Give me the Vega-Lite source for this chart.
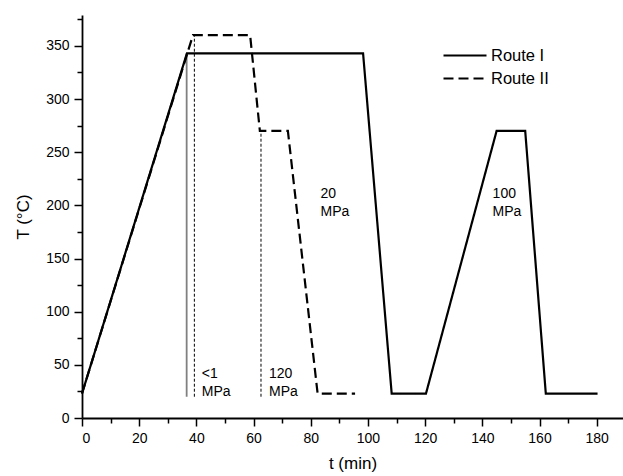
{
  "$schema": "https://vega.github.io/schema/vega-lite/v6.json",
  "autosize": {"type": "none"},
  "padding": {"left": 82, "top": 15, "right": 0, "bottom": 58},
  "width": 541,
  "height": 403,
  "background": "white",
  "config": {
    "view": {"stroke": null},
    "font": "Liberation Sans",
    "axis": {"labelFont": "Liberation Sans", "titleFont": "Liberation Sans", "labelColor": "black", "titleColor": "black", "domainColor": "black", "tickColor": "black", "grid": false, "titleFontWeight": "normal"},
    "legend": {"labelFont": "Liberation Sans"}
  },
  "datasets": {
    "lines": [
      {"route": "Route I", "i": 1, "t": 0, "T": 23},
      {"route": "Route I", "i": 2, "t": 36.7, "T": 343},
      {"route": "Route I", "i": 3, "t": 98.3, "T": 343},
      {"route": "Route I", "i": 4, "t": 108.3, "T": 23},
      {"route": "Route I", "i": 5, "t": 120.3, "T": 23},
      {"route": "Route I", "i": 6, "t": 145, "T": 270},
      {"route": "Route I", "i": 7, "t": 155, "T": 270},
      {"route": "Route I", "i": 8, "t": 162.2, "T": 23},
      {"route": "Route I", "i": 9, "t": 180.3, "T": 23},
      {"route": "Route II", "i": 1, "t": 0, "T": 23},
      {"route": "Route II", "i": 2, "t": 38.8, "T": 360},
      {"route": "Route II", "i": 3, "t": 58.8, "T": 360},
      {"route": "Route II", "i": 4, "t": 62.2, "T": 270},
      {"route": "Route II", "i": 5, "t": 72, "T": 270},
      {"route": "Route II", "i": 6, "t": 82.4, "T": 23},
      {"route": "Route II", "i": 7, "t": 95.5, "T": 23}
    ],
    "grayRules": [
      {"t": 36.6, "y1": 20, "y2": 343}
    ],
    "dashRules": [
      {"t": 39.3, "y1": 20, "y2": 360},
      {"t": 62.6, "y1": 20, "y2": 270}
    ],
    "labels": [
      {"t": 41.9, "T": 48, "label": "<1\nMPa"},
      {"t": 65.4, "T": 48, "label": "120\nMPa"},
      {"t": 83.4, "T": 217, "label": "20\nMPa"},
      {"t": 143.6, "T": 217, "label": "100\nMPa"}
    ]
  },
  "resolve": {"axis": {"x": "independent", "y": "independent"}, "scale": {"strokeDash": "independent"}},
  "layer": [
    {
      "data": {"name": "grayRules"},
      "mark": {"type": "rule", "color": "#808080", "strokeWidth": 1.8},
      "encoding": {
        "x": {"field": "t", "type": "quantitative", "scale": {"domain": [0, 189.2], "nice": false, "zero": false},
          "axis": {"orient": "bottom", "values": [10, 30, 50, 70, 90, 110, 130, 150, 170], "labels": false, "domain": false, "title": null, "tickSize": 5, "tickWidth": 1.5}},
        "y": {"field": "y1", "type": "quantitative", "scale": {"domain": [0, 379], "nice": false, "zero": false},
          "axis": {"orient": "left", "values": [25, 75, 125, 175, 225, 275, 325, 375], "labels": false, "domain": false, "title": null, "tickSize": 5, "tickWidth": 1.5}},
        "y2": {"field": "y2"}
      }
    },
    {
      "data": {"name": "dashRules"},
      "mark": {"type": "rule", "color": "black", "strokeWidth": 1, "strokeDash": [3, 2]},
      "encoding": {
        "x": {"field": "t", "type": "quantitative", "axis": null},
        "y": {"field": "y1", "type": "quantitative", "axis": null},
        "y2": {"field": "y2"}
      }
    },
    {
      "data": {"name": "lines"},
      "mark": {"type": "line", "color": "black", "strokeWidth": 2.2, "interpolate": "linear"},
      "encoding": {
        "x": {"field": "t", "type": "quantitative",
          "axis": {"orient": "bottom", "values": [0, 20, 40, 60, 80, 100, 120, 140, 160, 180], "title": "t (min)", "titleFontSize": 17, "titlePadding": 10, "labelFontSize": 14, "tickSize": 8, "tickWidth": 1.5, "domainWidth": 1.8, "labelPadding": 5}},
        "y": {"field": "T", "type": "quantitative",
          "axis": {"orient": "left", "values": [0, 50, 100, 150, 200, 250, 300, 350], "title": "T (°C)", "titleFontSize": 17, "titlePadding": 13, "labelFontSize": 14, "tickSize": 8, "tickWidth": 1.5, "domainWidth": 1.8, "labelPadding": 5}},
        "order": {"field": "i", "type": "quantitative"},
        "strokeDash": {"field": "route", "type": "nominal",
          "scale": {"domain": ["Route I", "Route II"], "range": [[1, 0], [10, 5]]},
          "legend": {"orient": "none", "legendX": 360, "legendY": 29, "title": null, "padding": 0, "symbolType": "stroke", "symbolSize": 1849, "symbolStrokeWidth": 2.2, "symbolStrokeColor": "black", "labelFontSize": 16.5, "labelOffset": 3, "clipHeight": 23, "rowPadding": 0}}
      }
    },
    {
      "data": {"name": "labels"},
      "mark": {"type": "text", "align": "left", "baseline": "top", "fontSize": 14, "lineHeight": 18, "lineBreak": "\n", "color": "black", "font": "Liberation Sans"},
      "encoding": {
        "x": {"field": "t", "type": "quantitative", "axis": null},
        "y": {"field": "T", "type": "quantitative", "axis": null},
        "text": {"field": "label"}
      }
    }
  ]
}
